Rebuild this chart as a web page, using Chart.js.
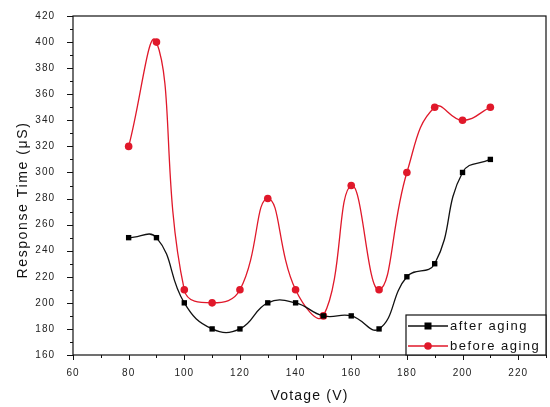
<!DOCTYPE html>
<html>
<head>
<meta charset="utf-8">
<script src="https://cdn.jsdelivr.net/npm/chart.js@4/dist/chart.umd.min.js"></script>
<style>
html,body{margin:0;padding:0;background:#fff;}
#wrap{width:550px;height:407px;position:relative;}
</style>
</head>
<body>
<div id="wrap"><canvas id="c" width="550" height="407"></canvas></div>
<script>
const voltages = [80, 90, 100, 110, 120, 130, 140, 150, 160, 170, 180, 190, 200, 210];
const afterAging = [250, 250, 200, 180, 180, 200, 200, 190, 190, 180, 220, 230, 300, 310];
const beforeAging = [320, 400, 210, 200, 210, 280, 210, 190, 290, 210, 300, 350, 340, 350];
const xTickLabels = [60, 80, 100, 120, 140, 160, 180, 200, 220];
const yTickLabels = [160, 180, 200, 220, 240, 260, 280, 300, 320, 340, 360, 380, 400, 420];
const seriesNames = ['after aging', 'before aging'];
const xTitle = 'Votage (V)';
const yTitle = 'Response Time (μS)';

const toPts = (ys) => voltages.map((v, i) => ({x: v, y: ys[i]}));
const FONT = 'Liberation Sans, Arial, sans-serif';
const RED = '#e0182a';

const spacing = {
  id: 'spacing',
  beforeLayout(chart) { chart.ctx.letterSpacing = '1px'; },
  beforeDraw(chart) { chart.ctx.letterSpacing = '1px'; }
};

const frame = {
  id: 'frame',
  afterDraw(chart) {
    const ctx = chart.ctx, a = chart.chartArea;
    const xs = chart.scales.x, ys = chart.scales.y;
    ctx.save();
    ctx.strokeStyle = '#111';
    ctx.lineWidth = 1.2;
    ctx.strokeRect(a.left, a.top, a.right - a.left, a.bottom - a.top);
    ctx.lineWidth = 1;
    ctx.beginPath();
    for (let v = 60; v <= 230; v += 10) {
      const px = Math.round(xs.getPixelForValue(v)) + 0.5;
      const len = (v % 20 === 0) ? 5 : 3;
      ctx.moveTo(px, a.bottom); ctx.lineTo(px, a.bottom + len);
    }
    for (let v = 160; v <= 420; v += 10) {
      const py = Math.round(ys.getPixelForValue(v)) + 0.5;
      const len = (v % 20 === 0) ? 6 : 3;
      ctx.moveTo(a.left, py); ctx.lineTo(a.left - len, py);
    }
    ctx.stroke();

    // axis titles
    ctx.fillStyle = '#111';
    ctx.textAlign = 'center';
    ctx.textBaseline = 'middle';
    ctx.font = '14px ' + FONT;
    ctx.letterSpacing = '1.2px';
    ctx.fillText(xTitle, (a.left + a.right) / 2, 396);
    ctx.save();
    ctx.translate(23, 200);
    ctx.rotate(-Math.PI / 2);
    ctx.letterSpacing = '1.6px';
    ctx.fillText(yTitle, 0, 0);
    ctx.restore();

    // legend
    const bx = 406, by = 315, bw = a.right - 406, bh = a.bottom - 315;
    ctx.fillStyle = '#fff';
    ctx.fillRect(bx, by, bw, bh);
    ctx.lineWidth = 1.2;
    ctx.strokeStyle = '#111';
    ctx.strokeRect(bx, by, bw, bh);
    const rows = [326, 346];
    chart.data.datasets.forEach((ds, i) => {
      const y = rows[i];
      ctx.strokeStyle = ds.borderColor;
      ctx.lineWidth = 1.3;
      ctx.beginPath(); ctx.moveTo(408, y); ctx.lineTo(448, y); ctx.stroke();
      ctx.fillStyle = ds.pointBackgroundColor;
      if (ds.pointStyle === 'rect') {
        ctx.fillRect(424.5, y - 3.5, 7, 7);
      } else {
        ctx.beginPath(); ctx.arc(428, y, 3.8, 0, Math.PI * 2); ctx.fill();
      }
      ctx.fillStyle = '#111';
      ctx.font = '13px ' + FONT;
      ctx.letterSpacing = '1.5px';
      ctx.textBaseline = 'middle';
      ctx.textAlign = 'left';
      ctx.fillText(ds.label, 450, y + 0.5);
    });
    ctx.restore();
  }
};

new Chart(document.getElementById('c'), {
  type: 'scatter',
  data: {
    datasets: [
      {
        label: seriesNames[0],
        data: toPts(afterAging),
        showLine: true,
        borderColor: '#111',
        borderWidth: 1.3,
        pointStyle: 'rect',
        pointRadius: 3.8,
        pointBackgroundColor: '#000',
        pointBorderColor: '#000',
        pointBorderWidth: 0,
        tension: 0.45
      },
      {
        label: seriesNames[1],
        data: toPts(beforeAging),
        showLine: true,
        borderColor: RED,
        borderWidth: 1.3,
        pointStyle: 'circle',
        pointRadius: 3.8,
        pointBackgroundColor: RED,
        pointBorderColor: RED,
        pointBorderWidth: 0,
        tension: 0.45
      }
    ]
  },
  options: {
    responsive: false,
    animation: false,
    layout: {padding: {top: 13, right: 3, left: 0, bottom: 0}},
    plugins: {legend: {display: false}, tooltip: {enabled: false}},
    scales: {
      x: {
        type: 'linear',
        min: 60, max: 230,
        grid: {display: false},
        border: {display: false},
        afterBuildTicks(s) { s.ticks = xTickLabels.map(v => ({value: v})); },
        afterFit(s) { s.height = 52; },
        ticks: {
          color: '#222',
          font: {family: FONT, size: 10},
          padding: 4,
          maxRotation: 0,
          autoSkip: false
        }
      },
      y: {
        type: 'linear',
        min: 160, max: 420,
        grid: {display: false},
        border: {display: false},
        afterBuildTicks(s) { s.ticks = yTickLabels.map(v => ({value: v})); },
        afterFit(s) { s.width = 73; },
        ticks: {
          color: '#222',
          font: {family: FONT, size: 10},
          padding: 10,
          autoSkip: false
        }
      }
    }
  },
  plugins: [spacing, frame]
});
</script>
</body>
</html>
